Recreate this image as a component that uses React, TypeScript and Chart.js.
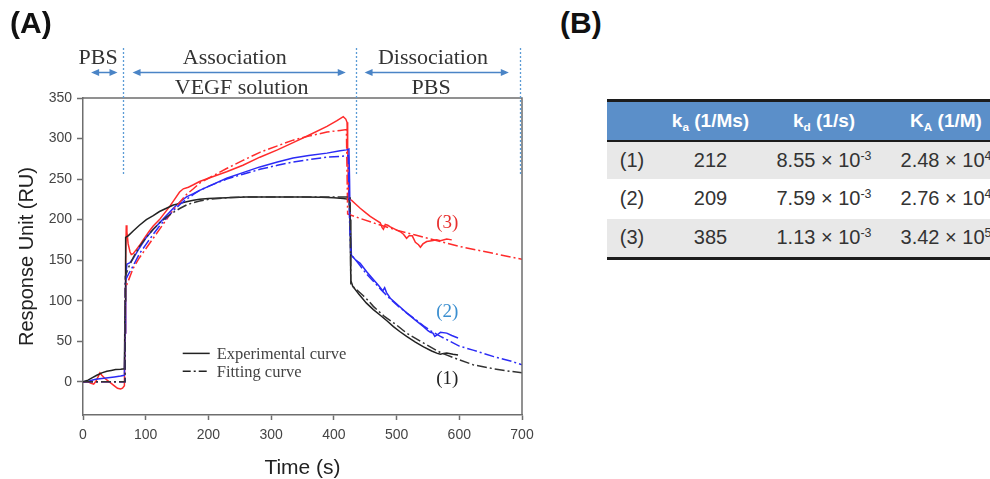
import React, { useEffect, useRef } from "react";
import { Chart, registerables } from "chart.js";

Chart.register(...registerables);

type Pt = [number, number];

// ---- Data (time in s, response in RU) ----
const black1Exp: Pt[] = [[0,0],[8,2],[15,5],[22,8],[30,11],[38,13],[45,14],[52,15],[60,15.5],[66,16],[67,100],[68,178],[72,180],[80,186],[90,193],[101,200],[112,205],[122,210],[133,214],[144,218],[155,220],[165,222],[176,224],[186,225],[200,226],[229,227],[260,228],[300,228],[350,228],[380,227.5],[400,227],[415,226],[424,225],[426,200],[427,125],[430,118],[440,108],[452,97],[463,89],[474,82],[485,75],[495,68],[505,62],[516,56],[530,49],[543,43],[556,38],[565,35],[570,34],[575,35],[580,35.5],[590,34],[598,33]];
const black1Fit: Pt[] = [[0,0],[67,0],[67.5,130],[72,140],[80,153],[90,167],[101,178],[112,188],[122,196],[133,203],[144,209],[155,214],[165,218],[176,221],[186,223],[200,225],[229,227],[260,228],[300,228],[350,228],[426,228],[427,121],[431,117],[440,111],[447,106],[455,100],[463,93],[480,81],[500,70],[516,60],[540,49],[570,36],[600,27],[622,21],[655,16],[680,13],[700,11]];
const blue2Exp: Pt[] = [[0,0],[10,1],[20,3],[30,4],[40,5],[50,6],[60,7],[66,8],[67,60],[68,130],[70,145],[75,147],[80,152],[90,165],[101,178],[112,188],[122,196],[133,205],[144,214],[155,222],[165,228],[176,232],[186,236],[200,241],[229,251],[255,258],[282,265],[310,271],[335,276],[360,279],[389,282],[410,285],[420,286],[424,287],[425,250],[426,190],[428,156],[435,150],[442,146],[452,136],[463,126],[472,118],[478,112],[481,116],[484,110],[490,103],[503,94],[516,85],[530,76],[543,68],[550,63],[554,61],[558,60],[561,56],[565,58],[570,61],[580,60],[588,57],[598,54]];
const blue2Fit: Pt[] = [[0,0],[67,0],[67.5,125],[72,132],[80,143],[90,158],[101,170],[112,182],[122,192],[133,202],[144,211],[155,219],[165,225],[176,231],[186,236],[200,241],[229,250],[255,256],[282,262],[310,267],[335,271],[360,274],[389,277],[410,278],[423,279],[425,200],[427,157],[435,150],[442,143],[452,133],[463,124],[476,113],[490,102],[503,93],[516,85],[530,77],[543,69],[556,62],[570,56],[585,50],[600,44],[622,39],[655,31],[680,26],[700,21]];
const red3Exp: Pt[] = [[0,0],[8,0],[13,-2],[17,-3],[20,0],[24,6],[27,11],[30,8],[35,4],[40,1],[45,-2],[50,-5],[55,-8],[60,-9],[63,-8],[66,-5],[67,60],[68,150],[69,193],[70,185],[72,170],[75,160],[77,157],[80,158],[85,163],[90,168],[96,175],[105,185],[112,192],[122,200],[130,208],[138,216],[146,225],[154,234],[160,238],[168,240],[176,243],[186,247],[200,251],[229,259],[255,267],[282,277],[310,286],[335,295],[360,304],[389,315],[405,322],[415,327],[419,324],[421,320],[422,290],[423,250],[424,225],[428,224],[435,219],[442,214],[450,209],[458,204],[466,200],[474,196],[477,190],[479,188],[482,194],[486,193],[490,191],[498,188],[506,185],[511,182],[516,177],[520,180],[525,180],[530,172],[535,169],[538,166],[542,170],[548,173],[556,174],[564,175],[570,174],[580,176],[588,175]];
const red3Fit: Pt[] = [[0,0],[67,0],[67.5,115],[72,124],[80,140],[90,153],[101,165],[112,177],[122,188],[133,200],[144,212],[155,222],[165,231],[176,238],[186,245],[200,251],[229,263],[255,273],[282,283],[310,291],[335,298],[360,303],[389,308],[410,310],[420,311],[421,260],[422,207],[440,202],[463,196],[500,187],[530,181],[570,173],[600,167],[650,159],[700,151]];

const xTicks = { min: 0, max: 700, step: 100 };
const yTicks = { min: -41, max: 350, step: 50 };

// phase annotations
const phaseBoundaries = [64, 435, 697];
const phaseArrows: Pt[] = [[13, 55], [79, 419], [449, 679]];
const phaseTopLabels = ["PBS", "Association", "Dissociation"];
const phaseTopCenters = [24, 242, 558];
const phaseBottomLabels = ["", "VEGF solution", "PBS"];
const phaseBottomCenters = [0, 253, 555];

const seriesLabels = ["(1)", "(2)", "(3)"];
const seriesLabelPos: Pt[] = [[581, 4], [581, 86], [581, 196]];
const seriesLabelColors = ["#222222", "#3b8fd0", "#e8302f"];
const legendLabels = ["Experimental curve", "Fitting curve"];
const legendPos: Pt[] = [[159, 35], [159, 13]];

// table
const tableHeaders = ["k|a| (1/Ms)", "k|d| (1/s)", "K|A| (1/M)"];
const tableRows = ["(1)", "(2)", "(3)"];
const kaValues = ["212", "209", "385"];
const kdMantissa = ["8.55", "7.59", "1.13"];
const kdExp = ["-3", "-3", "-3"];
const KAMantissa = ["2.48", "2.76", "3.42"];
const KAExp = ["4", "4", "5"];

const BLACK = "#222222";
const BLUE = "#2b2bf5";
const RED = "#ff2b2b";
const FITDASH = [10, 3, 2, 3];

const toXY = (pts: Pt[]) => pts.map(([x, y]) => ({ x, y }));

const annotPlugin = {
  id: "annot",
  afterDraw(chart: any) {
    const { ctx, chartArea, scales } = chart;
    const xs = scales.x;
    const ys = scales.y;
    ctx.save();
    // frame top & right
    ctx.strokeStyle = "#6e6e6e";
    ctx.lineWidth = 1.5;
    ctx.beginPath();
    ctx.moveTo(chartArea.left, chartArea.top);
    ctx.lineTo(chartArea.right, chartArea.top);
    ctx.lineTo(chartArea.right, chartArea.bottom);
    ctx.stroke();

    // dotted boundaries
    ctx.strokeStyle = "#5b9bd5";
    ctx.lineWidth = 1.3;
    ctx.setLineDash([2, 2]);
    phaseBoundaries.forEach((b) => {
      const px = Math.round(xs.getPixelForValue(b)) + 0.5;
      ctx.beginPath();
      ctx.moveTo(px, chartArea.top - 50);
      ctx.lineTo(px, ys.getPixelForValue(255));
      ctx.stroke();
    });
    ctx.setLineDash([]);

    // arrows
    const ay = chartArea.top - 25.5;
    ctx.strokeStyle = "#4a84c6";
    ctx.fillStyle = "#4a84c6";
    ctx.lineWidth = 1.5;
    phaseArrows.forEach(([a, b]) => {
      const x1 = xs.getPixelForValue(a);
      const x2 = xs.getPixelForValue(b);
      ctx.beginPath();
      ctx.moveTo(x1 + 3, ay);
      ctx.lineTo(x2 - 3, ay);
      ctx.stroke();
      ctx.beginPath();
      ctx.moveTo(x1, ay);
      ctx.lineTo(x1 + 8, ay - 3.5);
      ctx.lineTo(x1 + 8, ay + 3.5);
      ctx.closePath();
      ctx.fill();
      ctx.beginPath();
      ctx.moveTo(x2, ay);
      ctx.lineTo(x2 - 8, ay - 3.5);
      ctx.lineTo(x2 - 8, ay + 3.5);
      ctx.closePath();
      ctx.fill();
    });

    // phase labels
    ctx.fillStyle = "#333333";
    ctx.font = '22px "Liberation Serif", "Times New Roman", serif';
    ctx.textAlign = "center";
    ctx.textBaseline = "alphabetic";
    phaseTopLabels.forEach((t, i) => {
      ctx.fillText(t, xs.getPixelForValue(phaseTopCenters[i]), chartArea.top - 34);
    });
    phaseBottomLabels.forEach((t, i) => {
      if (t) ctx.fillText(t, xs.getPixelForValue(phaseBottomCenters[i]), chartArea.top - 4);
    });

    // legend
    ctx.font = '16.5px "Liberation Serif", "Times New Roman", serif';
    ctx.textAlign = "left";
    ctx.textBaseline = "middle";
    legendLabels.forEach((t, i) => {
      const px = xs.getPixelForValue(legendPos[i][0]);
      const py = ys.getPixelForValue(legendPos[i][1]);
      ctx.strokeStyle = BLACK;
      ctx.lineWidth = 1.5;
      ctx.setLineDash(i === 0 ? [] : [8, 3, 2, 3]);
      ctx.beginPath();
      ctx.moveTo(px, py);
      ctx.lineTo(px + 27, py);
      ctx.stroke();
      ctx.setLineDash([]);
      ctx.fillStyle = "#444444";
      ctx.fillText(t, px + 34, py + 1);
    });

    // series labels
    ctx.font = '19px "Liberation Serif", "Times New Roman", serif';
    ctx.textAlign = "center";
    seriesLabels.forEach((t, i) => {
      ctx.fillStyle = seriesLabelColors[i];
      ctx.fillText(t, xs.getPixelForValue(seriesLabelPos[i][0]), ys.getPixelForValue(seriesLabelPos[i][1]));
    });
    ctx.restore();
  },
};

function PlotA() {
  const ref = useRef<HTMLCanvasElement | null>(null);
  useEffect(() => {
    if (!ref.current) return;
    const mk = (data: Pt[], color: string, fit: boolean) => ({
      data: toXY(data),
      borderColor: color,
      backgroundColor: color,
      borderWidth: 1.5,
      borderDash: fit ? FITDASH : [],
      pointRadius: 0,
      tension: 0,
      fill: false,
    });
    const tickFont = { family: '"Liberation Sans", Arial, sans-serif', size: 14 };
    const chart = new Chart(ref.current, {
      type: "line",
      data: {
        datasets: [
          mk(black1Fit, "#333333", true),
          mk(blue2Fit, BLUE, true),
          mk(red3Fit, RED, true),
          mk(black1Exp, BLACK, false),
          mk(blue2Exp, BLUE, false),
          mk(red3Exp, RED, false),
        ] as any,
      },
      options: {
        animation: false,
        responsive: false,
        devicePixelRatio: 1,
        layout: { padding: { top: 98, right: 38, left: 0, bottom: 0 } },
        plugins: { legend: { display: false }, tooltip: { enabled: false } },
        scales: {
          x: {
            type: "linear",
            min: xTicks.min,
            max: xTicks.max,
            ticks: { stepSize: xTicks.step, font: tickFont, color: "#444", padding: 7, maxRotation: 0 },
            grid: { drawOnChartArea: false, drawTicks: true, tickLength: 5, tickColor: "#6e6e6e", tickWidth: 1.5 },
            border: { color: "#6e6e6e", width: 1.5 },
            title: {
              display: true,
              text: "Time (s)",
              color: "#222",
              font: { family: '"Liberation Sans", Arial, sans-serif', size: 21, lineHeight: 1 },
              padding: { top: 0, bottom: 0 },
            },
            afterFit: (s: any) => { s.height = 64; },
          },
          y: {
            type: "linear",
            min: yTicks.min,
            max: yTicks.max,
            ticks: { stepSize: yTicks.step, font: tickFont, color: "#444", padding: 5 },
            grid: { drawOnChartArea: false, drawTicks: true, tickLength: 6, tickColor: "#6e6e6e", tickWidth: 1.5 },
            border: { color: "#6e6e6e", width: 1.5 },
            title: {
              display: true,
              text: "Response Unit (RU)",
              color: "#222",
              font: { family: '"Liberation Sans", Arial, sans-serif', size: 20, lineHeight: 1.2 },
              padding: { top: 15, bottom: 0 },
            },
            afterBuildTicks: (s: any) => { s.ticks = s.ticks.filter((t: any) => t.value >= 0); },
            afterFit: (s: any) => { s.width = 83; },
          },
        },
      } as any,
      plugins: [annotPlugin],
    });
    return () => chart.destroy();
  }, []);
  return <canvas ref={ref} width={560} height={479} style={{ position: "absolute", left: 0, top: 0, width: 560, height: 479 }} />;
}

function Sub({ t }: { t: string }) {
  return <span style={{ fontSize: "0.62em", verticalAlign: "-0.3em", lineHeight: 0 }}>{t}</span>;
}
function Sup({ t }: { t: string }) {
  return <span style={{ fontSize: "0.62em", verticalAlign: "0.55em", lineHeight: 0 }}>{t}</span>;
}

function TableB() {
  const colW = [50, 107, 120, 124];
  const cell: React.CSSProperties = { padding: 0, textAlign: "center", verticalAlign: "middle", whiteSpace: "nowrap", overflow: "visible" };
  return (
    <table
      style={{
        position: "absolute",
        left: 607,
        top: 99,
        borderCollapse: "collapse",
        tableLayout: "fixed",
        width: colW.reduce((a, b) => a + b, 0),
        fontFamily: '"Liberation Sans", Arial, sans-serif',
        fontSize: 20,
        color: "#333",
      }}
    >
      <colgroup>
        {colW.map((w, i) => <col key={i} style={{ width: w }} />)}
      </colgroup>
      <thead>
        <tr style={{ background: "#5b8fc9", height: 40, borderTop: "3px solid #1c1c1c", borderBottom: "2px solid #1c1c1c" }}>
          <th style={cell}></th>
          {tableHeaders.map((h, i) => {
            const [a, b, c] = h.split("|");
            return (
              <th key={i} style={{ ...cell, color: "#fff", fontWeight: "bold", fontSize: 19 }}>
                {a}<Sub t={b} />{c}
              </th>
            );
          })}
        </tr>
      </thead>
      <tbody>
        {tableRows.map((r, i) => (
          <tr key={i} style={{ background: i % 2 === 0 ? "#e8e8e8" : "#ffffff", height: i === 0 ? 38 : 40, borderBottom: i === tableRows.length - 1 ? "3px solid #1c1c1c" : "none" }}>
            <td style={cell}>{r}</td>
            <td style={cell}>{kaValues[i]}</td>
            <td style={cell}>{kdMantissa[i]} × 10<Sup t={kdExp[i]} /></td>
            <td style={cell}>{KAMantissa[i]} × 10<Sup t={KAExp[i]} /></td>
          </tr>
        ))}
      </tbody>
    </table>
  );
}

export default function App() {
  const panelLabel: React.CSSProperties = {
    position: "absolute",
    top: 8,
    fontFamily: '"Liberation Sans", Arial, sans-serif',
    fontWeight: "bold",
    fontSize: 30,
    lineHeight: "30px",
    color: "#111",
  };
  return (
    <div style={{ position: "fixed", left: 0, top: 0, width: 990, height: 479, overflow: "hidden", background: "#fff" }}>
      <PlotA />
      <div style={{ ...panelLabel, left: 10 }}>(A)</div>
      <div style={{ ...panelLabel, left: 560 }}>(B)</div>
      <TableB />
    </div>
  );
}
